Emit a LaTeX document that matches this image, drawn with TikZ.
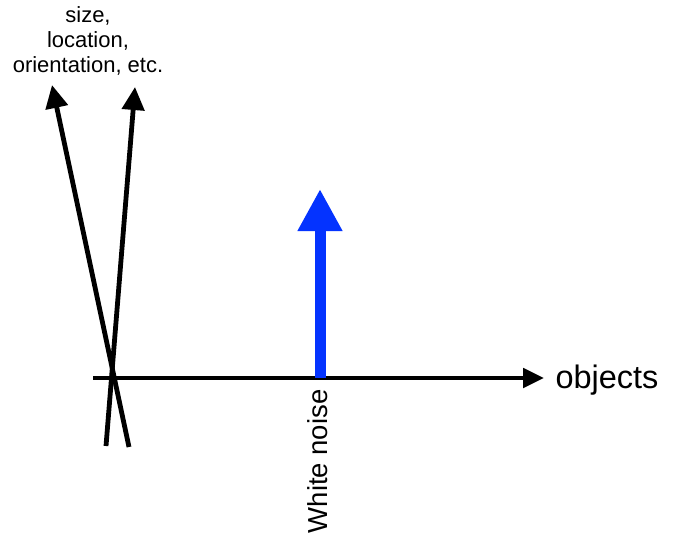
\documentclass[tikz,border=0pt]{standalone}
\usepackage{fontspec}
\setmainfont{Liberation Sans}
\usetikzlibrary{arrows.meta}
\definecolor{noiseblue}{RGB}{4,51,255}

\begin{document}
\begin{tikzpicture}[x=1pt,y=-1pt,
    axis/.style={line width=4.8pt,-{Triangle[length=21pt,width=19pt]}},
    feat/.style={line width=4.8pt,-{Triangle[length=23pt,width=22pt]}},
    noise/.style={line width=11pt,noiseblue,-{Triangle[length=42pt,width=42pt]}}]
      \useasboundingbox (0,0) rectangle (673,544);
      \coordinate (0) at (93,378);
      \node [anchor=west,font=\fontsize{32.5}{38}\selectfont] (1) at (552,380) {objects};
      \node [align=center,font=\fontsize{22}{25}\selectfont] (2) at (88,41) {size,\\location,\\orientation, etc.};
      \coordinate (3) at (106,446);
      \coordinate (4) at (135,87);
      \coordinate (5) at (129,447);
      \coordinate (6) at (52,85);
      \coordinate (7) at (320,378);
      \coordinate (8) at (320,189);
      \node [rotate=90,anchor=east,font=\fontsize{27.5}{32}\selectfont] (9) at (318,386) {White noise};

      \draw[axis,shorten >=-2pt] (0) -- ([xshift=-10pt]1.west |- 0);
      \draw[feat] (3) -- (4);
      \draw[feat] (5) -- (6);
      \draw[noise] (7) -- (8);
    \end{tikzpicture}
\end{document}
